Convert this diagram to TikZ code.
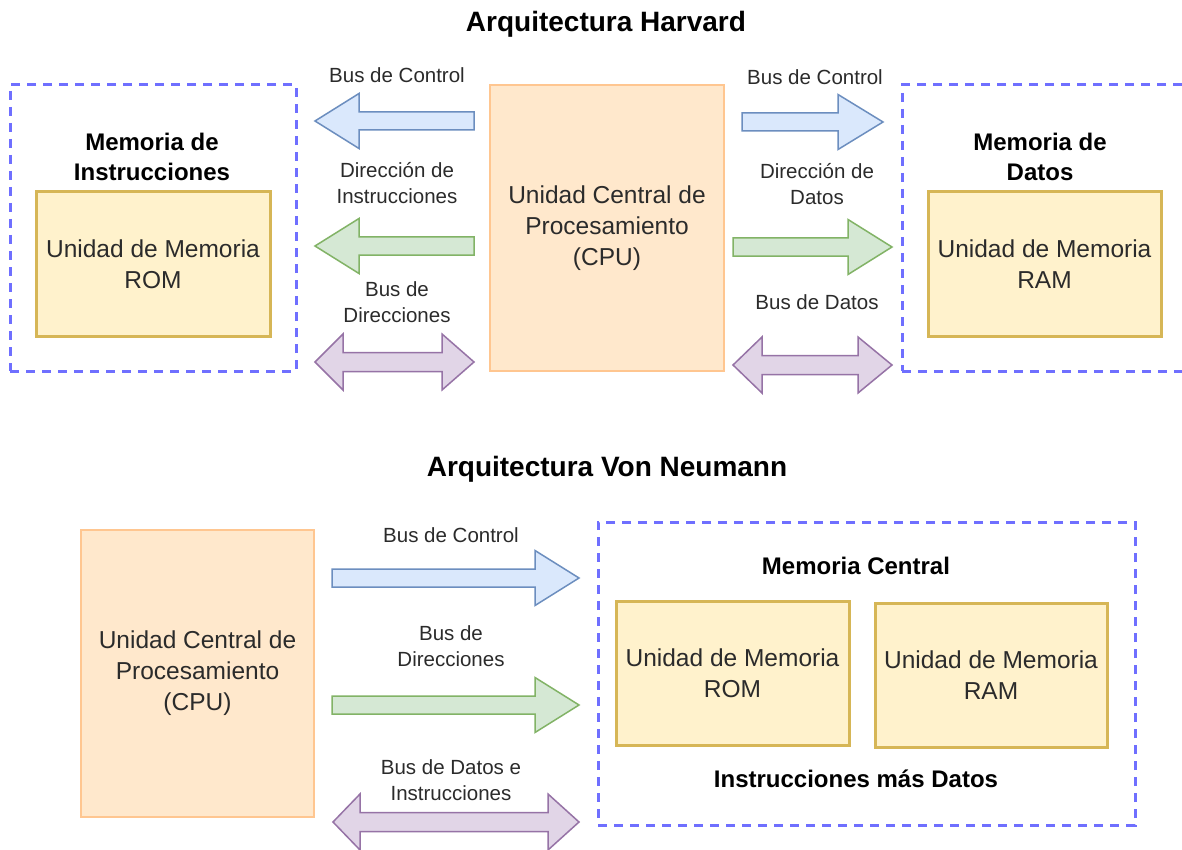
\documentclass[tikz,border=0pt]{standalone}
\usepackage{fontspec}
\setmainfont{Liberation Sans}

\definecolor{txt}{HTML}{2B2B2B}
\definecolor{dashblue}{HTML}{6F6FFF}
\definecolor{cpufill}{HTML}{FFE8CC}
\definecolor{cpuline}{HTML}{FFC690}
\definecolor{memfill}{HTML}{FFF2CC}
\definecolor{memline}{HTML}{D6B656}
\definecolor{bluefill}{HTML}{DAE8FC}
\definecolor{blueline}{HTML}{6C8EBF}
\definecolor{greenfill}{HTML}{D5E8D4}
\definecolor{greenline}{HTML}{82B366}
\definecolor{purplefill}{HTML}{E1D5E7}
\definecolor{purpleline}{HTML}{9673A6}

% single block arrow: style, tail x, head base x, tip x, centre y
\newcommand\busone[5]{%
  \filldraw[#1] (#2,#5-9) -- (#3,#5-9) -- (#3,#5-27.5) -- (#4,#5)
    -- (#3,#5+27.5) -- (#3,#5+9) -- (#2,#5+9) -- cycle;}
% double block arrow: style, left tip x, left base x, right base x, right tip x, centre y
\newcommand\bustwo[6]{%
  \filldraw[#1] (#2,#6) -- (#3,#6-28) -- (#3,#6-9.5) -- (#4,#6-9.5)
    -- (#4,#6-28) -- (#5,#6) -- (#4,#6+28) -- (#4,#6+9.5)
    -- (#3,#6+9.5) -- (#3,#6+28) -- cycle;}

\begin{document}
\begin{tikzpicture}[x=1pt,y=-1pt,
  title/.style={font=\fontsize{28pt}{32pt}\selectfont\bfseries, text=black},
  head/.style={font=\fontsize{24pt}{30pt}\selectfont\bfseries, text=black, align=center},
  buslabel/.style={font=\fontsize{20.5pt}{26pt}\selectfont, text=txt, align=center},
  unittext/.style={font=\fontsize{24.5pt}{31pt}\selectfont, text=txt, align=center},
  group/.style={draw=dashblue, line width=3pt, dash pattern=on 9pt off 7pt, fill=none},
  cpu/.style={draw=cpuline, fill=cpufill, line width=2pt, unittext},
  memunit/.style={draw=memline, fill=memfill, line width=3pt, unittext},
  bblue/.style={draw=blueline, fill=bluefill, line width=1.5pt, line join=miter},
  bgreen/.style={draw=greenline, fill=greenfill, line width=1.5pt, line join=miter},
  bpurple/.style={draw=purpleline, fill=purplefill, line width=1.5pt, line join=miter}
]
\useasboundingbox (0,0) rectangle (1182,850);
\clip (0,0) rectangle (1182,850);
\fill[white] (0,0) rectangle (1182,850);

% ---------------- Harvard architecture ----------------
\node[title] (harvard) at (606,24) {Arquitectura Harvard};

\node[group, minimum width=286pt, minimum height=286pt] (instrmem) at (153,228) {};
\node[head] (instrhead) at (152,157) {Memoria de\\Instrucciones};
\node[memunit, minimum width=234pt, minimum height=144pt] (rom1) at (153,264) {Unidad de Memoria\\ROM};

\node[cpu, minimum width=234pt, minimum height=286pt] (cpu1) at (607,228) {Unidad Central de\\Procesamiento\\(CPU)};

\node[group, minimum width=293pt, minimum height=286pt] (datamem) at (1048.5,228) {};
\node[head] (datahead) at (1040,157) {Memoria de\\Datos};
\node[memunit, minimum width=233pt, minimum height=144pt] (ram1) at (1044.5,264) {Unidad de Memoria\\RAM};

% buses towards the instruction memory
\busone{bblue}{474}{359}{315}{121}
\busone{bgreen}{474}{359}{315}{246}
\bustwo{bpurple}{315}{343}{442}{474}{362}
\node[buslabel] (lctrl) at (397,75) {Bus de Control};
\node[buslabel] (ldir) at (397,183.5) {Dirección de\\Instrucciones};
\node[buslabel] (lbus) at (397,302) {Bus de\\Direcciones};

% buses towards the data memory
\busone{bblue}{742}{838}{883}{122}
\busone{bgreen}{733}{848}{892}{247}
\bustwo{bpurple}{733}{762}{858}{892}{365}
\node[buslabel] (rctrl) at (815,77) {Bus de Control};
\node[buslabel] (rdir) at (817,184.5) {Dirección de\\Datos};
\node[buslabel] (rbus) at (817,302) {Bus de Datos};

% ---------------- Von Neumann architecture ----------------
\node[title] (vonneumann) at (607,469) {Arquitectura Von Neumann};

\node[cpu, minimum width=233pt, minimum height=287pt] (cpu2) at (197.5,673.5) {Unidad Central de\\Procesamiento\\(CPU)};

\node[group, minimum width=537pt, minimum height=303pt] (centralmem) at (866.5,673.5) {};
\node[head] (centralhead) at (856,566) {Memoria Central};
\node[memunit, minimum width=233pt, minimum height=144pt] (rom2) at (732.5,673) {Unidad de Memoria\\ROM};
\node[memunit, minimum width=232pt, minimum height=144pt] (ram2) at (991,675) {Unidad de Memoria\\RAM};
\node[head] (centralfoot) at (856,779) {Instrucciones más Datos};

\busone{bblue}{332}{535}{579}{578}
\busone{bgreen}{332}{535}{579}{705}
\bustwo{bpurple}{333}{360}{548}{579}{822}
\node[buslabel] (bctrl) at (451,535) {Bus de Control};
\node[buslabel] (bdir) at (451,646.5) {Bus de\\Direcciones};
\node[buslabel] (bbus) at (451,780.5) {Bus de Datos e\\Instrucciones};
\end{tikzpicture}
\end{document}
